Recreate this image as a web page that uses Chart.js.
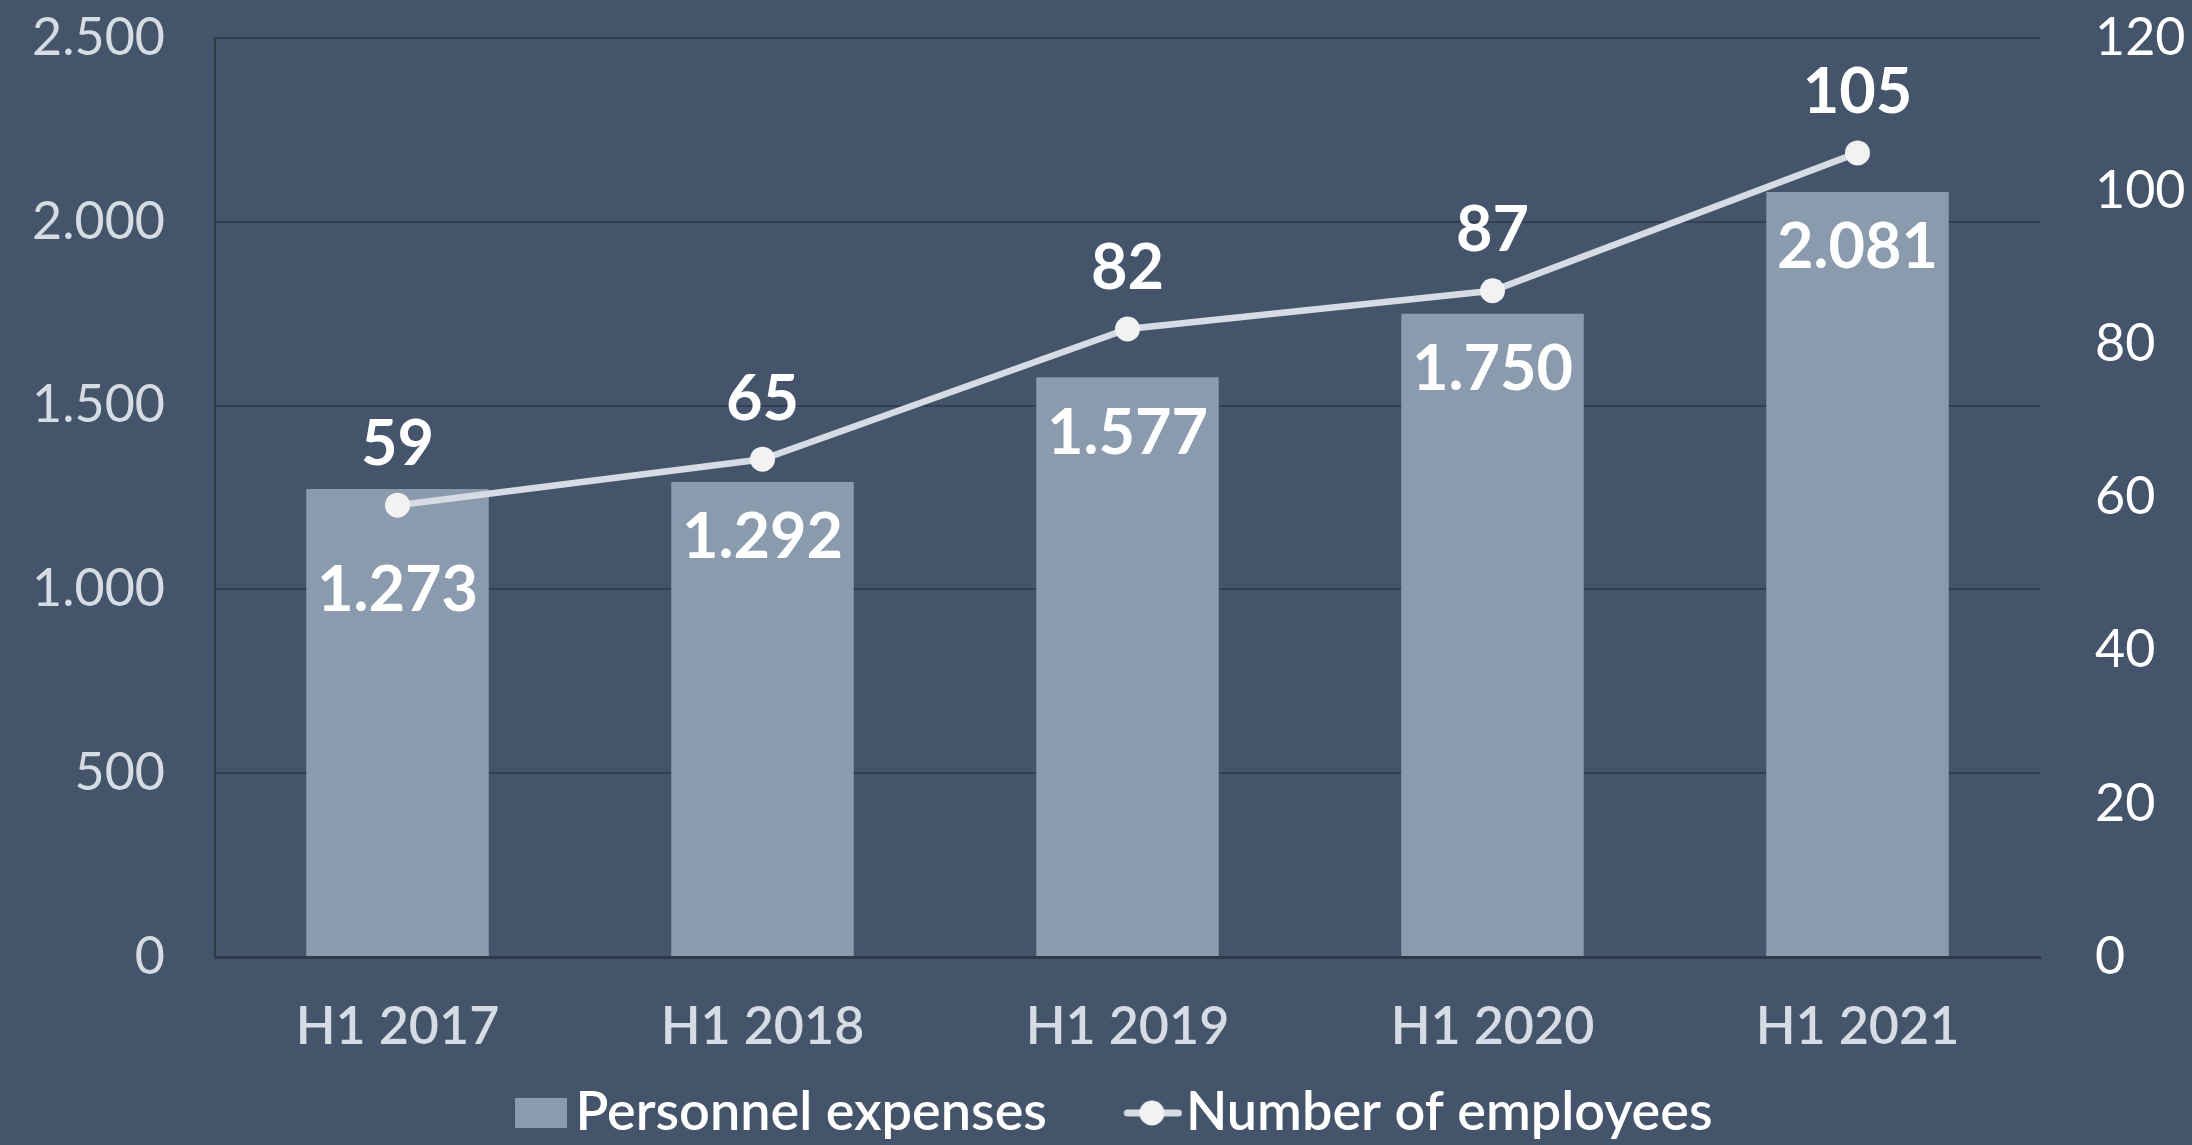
<!DOCTYPE html>
<html>
<head>
<meta charset="utf-8">
<script src="https://cdn.jsdelivr.net/npm/chart.js@4.4.1/dist/chart.umd.min.js"></script>
<style>
  html, body { margin: 0; padding: 0; background: #44546A; }
  #wrap { width: 2192px; height: 1145px; }
</style>
</head>
<body>
<div id="wrap"><canvas id="c" width="2192" height="1145"></canvas></div>
<script>
// ---- data ----
const categories = ['H1 2017', 'H1 2018', 'H1 2019', 'H1 2020', 'H1 2021'];
const personnelExpenses = [1273, 1292, 1577, 1750, 2081];
const employees = [59, 65, 82, 87, 105];
const leftTicks = [0, 500, 1000, 1500, 2000, 2500];
const rightTicks = [0, 20, 40, 60, 80, 100, 120];
const seriesNames = ['Personnel expenses', 'Number of employees'];

const BG = '#44546A';
const BAR = '#8A9BAE';
const LINE = '#D6DCE4';
const POINT = '#F2F2F2';
const GRID = '#333F50';
const TICK = '#D6DCE4';
const FONT = 'Lato';

function fmt(v) { return String(v).replace(/\B(?=(\d{3})+(?!\d))/g, '.'); }

// legend icons
const LW = 85; // legend pointStyleWidth
function makeBoxIcon() {
  const c = document.createElement('canvas');
  c.width = 122; c.height = 30;
  const x = c.getContext('2d');
  x.fillStyle = BAR;
  x.fillRect(70, 0, 52, 30);
  return c;
}
function makeLineIcon() {
  const c = document.createElement('canvas');
  c.width = 132; c.height = 30;
  const x = c.getContext('2d');
  x.strokeStyle = LINE; x.lineWidth = 7; x.lineCap = 'round';
  x.beginPath(); x.moveTo(77, 15); x.lineTo(128, 15); x.stroke();
  x.fillStyle = POINT;
  x.beginPath(); x.arc(101.5, 15, 12.5, 0, Math.PI * 2); x.fill();
  return c;
}
const boxIcon = makeBoxIcon();
const lineIcon = makeLineIcon();

const bgPlugin = {
  id: 'bg',
  beforeDraw(chart) {
    const ctx = chart.ctx;
    ctx.save();
    ctx.fillStyle = BG;
    ctx.fillRect(0, 0, chart.width, chart.height);
    ctx.restore();
  }
};

const labelPlugin = {
  id: 'valueLabels',
  afterDatasetsDraw(chart) {
    const ctx = chart.ctx;
    const barMeta = chart.getDatasetMeta(1);
    const lineMeta = chart.getDatasetMeta(0);
    ctx.save();
    ctx.fillStyle = '#FFFFFF';
    ctx.font = 'bold 63px ' + FONT;
    ctx.textAlign = 'center';
    ctx.textBaseline = 'middle';
    barMeta.data.forEach((bar, i) => {
      const pt = lineMeta.data[i];
      let y = bar.y + 56;
      if (pt && pt.y > bar.y) y = pt.y + 86;
      ctx.fillText(fmt(personnelExpenses[i]), bar.x, y);
    });
    lineMeta.data.forEach((pt, i) => {
      ctx.fillText(String(employees[i]), pt.x, pt.y - 60);
    });
    ctx.restore();
  }
};

function noVPad(scale) { scale.paddingTop = 0; scale.paddingBottom = 0; }

new Chart(document.getElementById('c'), {
  type: 'bar',
  data: {
    labels: categories,
    datasets: [
      {
        type: 'line',
        label: seriesNames[1],
        data: employees,
        yAxisID: 'y1',
        borderColor: LINE,
        borderWidth: 6.5,
        pointRadius: 12.5,
        pointHoverRadius: 12.5,
        pointBackgroundColor: POINT,
        pointBorderWidth: 0,
        tension: 0,
        order: 0
      },
      {
        type: 'bar',
        label: seriesNames[0],
        data: personnelExpenses,
        yAxisID: 'y',
        backgroundColor: BAR,
        barPercentage: 0.5,
        categoryPercentage: 1.0,
        order: 1
      }
    ]
  },
  options: {
    responsive: false,
    animation: false,
    layout: { padding: { top: 38, left: -16, right: 0, bottom: -5 } },
    plugins: {
      tooltip: { enabled: false },
      legend: {
        position: 'bottom',
        labels: {
          usePointStyle: true,
          pointStyleWidth: LW,
          padding: 27,
          color: '#FFFFFF',
          font: { family: FONT, size: 54, weight: '600' },
          generateLabels() {
            return [
              { text: seriesNames[0], pointStyle: boxIcon, fillStyle: BAR, strokeStyle: 'transparent', lineWidth: 0, hidden: false, datasetIndex: 1, fontColor: '#FFFFFF' },
              { text: seriesNames[1], pointStyle: lineIcon, fillStyle: POINT, strokeStyle: 'transparent', lineWidth: 0, hidden: false, datasetIndex: 0, fontColor: '#FFFFFF' }
            ];
          }
        }
      }
    },
    scales: {
      x: {
        grid: { display: false, drawTicks: false },
        border: { display: true, color: '#2E3947', width: 3 },
        afterFit(scale) { scale.height = 102; },
        ticks: { color: TICK, padding: 39, font: { family: FONT, size: 52, weight: '600' }, maxRotation: 0 }
      },
      y: {
        position: 'left',
        min: 0, max: 2500,
        afterBuildTicks(scale) { scale.ticks = leftTicks.map(v => ({ value: v })); },
        afterFit(scale) { scale.width = 231; noVPad(scale); },
        grid: { color: GRID, lineWidth: 2, drawTicks: false },
        border: { display: true, color: '#2E3947', width: 2 },
        ticks: { color: TICK, padding: 50, font: { family: FONT, size: 52 }, callback: v => fmt(v) }
      },
      y1: {
        position: 'right',
        min: 0, max: 120,
        afterBuildTicks(scale) { scale.ticks = rightTicks.map(v => ({ value: v })); },
        afterFit(scale) { scale.width = 152; noVPad(scale); },
        grid: { display: false, drawTicks: false },
        border: { display: false },
        ticks: { color: '#FFFFFF', padding: 55, font: { family: FONT, size: 52 }, callback: v => String(v) }
      }
    }
  },
  plugins: [bgPlugin, labelPlugin]
});
</script>
</body>
</html>
